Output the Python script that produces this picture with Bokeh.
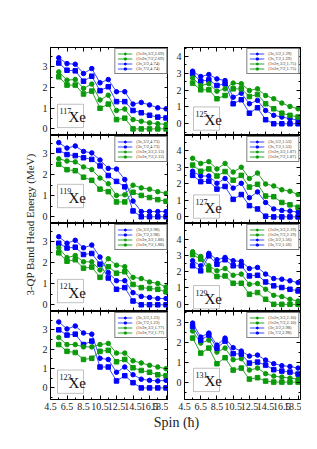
import math
from bokeh.plotting import figure
from bokeh.layouts import gridplot, row, column
from bokeh.models import (LinearAxis, FixedTicker, Range1d, Legend, LegendItem,
                          Label, BoxAnnotation)
from bokeh.core.properties import value
from bokeh.embed import file_html
from bokeh.resources import INLINE

# ---------------- data ----------------
spin = [5.5, 6.5, 7.5, 8.5, 9.5, 10.5, 11.5, 12.5, 13.5, 14.5, 15.5, 16.5, 17.5, 18.5]
x_major = [4.5, 6.5, 8.5, 10.5, 12.5, 14.5, 16.5, 18.5]
x_minor = [5.5, 7.5, 9.5, 11.5, 13.5, 15.5, 17.5]
y_minor = [-0.5, 0.5, 1.5, 2.5, 3.5, 4.5]

# 117Xe
g117_a = [2.76, 2.36, 2.39, 1.96, 2.17, 1.40, 1.63, 0.89, 0.96, 0.45, 0.37, 0.29, 0.25, 0.22]
g117_b = [2.52, 2.12, 2.12, 1.69, 1.83, 1.00, 1.20, 0.45, 0.52, 0.00, 0.00, 0.00, 0.00, 0.00]
b117_a = [3.44, 3.16, 3.13, 2.68, 2.92, 2.23, 2.39, 1.80, 1.80, 1.20, 1.28, 1.16, 1.02, 0.97]
b117_b = [3.19, 2.84, 2.81, 2.31, 2.55, 1.85, 2.04, 1.32, 1.32, 0.89, 0.78, 0.66, 0.57, 0.53]
lab117 = ["(1ν2π,3/2,2.69)", "(1ν2π,7/2,2.69)", "(3ν,3/2,4.74)", "(3ν,7/2,4.74)"]

# 119Xe
b119_a = [3.54, 3.28, 3.38, 3.12, 3.05, 2.71, 2.31, 2.28, 1.78, 0.75, 0.25, 0.25, 0.25, 0.25]
b119_b = [3.17, 2.97, 2.92, 2.82, 2.74, 2.43, 1.97, 1.69, 1.43, 0.28, 0.00, 0.00, 0.00, 0.00]
g119_a = [2.77, 2.66, 2.62, 2.38, 2.25, 1.85, 1.58, 1.02, 1.05, 1.51, 1.38, 1.32, 1.20, 1.12]
g119_b = [2.51, 2.25, 2.20, 1.89, 1.74, 1.32, 1.20, 0.71, 0.71, 1.17, 1.02, 0.92, 0.82, 0.74]
lab119 = ["(3ν,3/2,4.73)", "(3ν,7/2,4.73)", "(1ν2π,3/2,2.13)", "(1ν2π,7/2,2.13)"]

# 121Xe
b121_a = [3.25, 2.94, 3.08, 2.72, 2.85, 2.28, 1.54, 1.15, 1.15, 0.58, 0.40, 0.35, 0.30, 0.30]
b121_b = [2.94, 2.71, 2.75, 2.40, 2.45, 1.94, 1.28, 0.74, 0.82, 0.18, 0.00, 0.00, 0.00, 0.00]
g121_a = [2.72, 2.25, 2.35, 2.05, 2.05, 1.66, 2.20, 1.89, 1.82, 1.31, 1.25, 1.09, 1.02, 0.85]
g121_b = [2.48, 2.08, 2.15, 1.75, 1.80, 1.31, 1.82, 1.51, 1.58, 0.97, 0.82, 0.78, 0.74, 0.62]
lab121 = ["(3ν,3/2,2.98)", "(3ν,7/2,2.98)", "(1ν2π,3/2,1.88)", "(1ν2π,7/2,1.88)"]

# 123Xe
b123_a = [3.41, 3.05, 3.20, 2.84, 2.78, 1.53, 1.47, 0.81, 1.08, 0.68, 0.45, 0.39, 0.36, 0.39]
b123_b = [3.00, 2.73, 2.78, 2.24, 2.42, 1.08, 1.08, 0.36, 0.63, 0.27, 0.00, 0.00, 0.00, 0.00]
g123_a = [2.60, 2.24, 2.24, 2.12, 2.12, 2.24, 2.30, 1.80, 1.80, 1.40, 1.29, 1.17, 1.08, 0.99]
g123_b = [2.24, 1.89, 1.83, 1.47, 1.53, 1.89, 1.94, 1.35, 1.47, 1.04, 0.90, 0.81, 0.68, 0.63]
lab123 = ["(3ν,3/2,1.23)", "(3ν,7/2,1.23)", "(1ν2π,3/2,1.77)", "(1ν2π,7/2,1.77)"]

# 125Xe
b125_a = [3.13, 2.81, 2.93, 2.67, 2.57, 1.58, 1.82, 1.19, 1.39, 0.79, 0.50, 0.40, 0.30, 0.22]
b125_b = [2.97, 2.53, 2.61, 2.28, 2.38, 1.19, 1.43, 0.63, 0.95, 0.24, 0.00, 0.00, 0.00, 0.00]
g125_a = [2.73, 2.28, 2.38, 1.94, 2.08, 2.42, 2.38, 1.98, 2.08, 1.68, 1.49, 1.23, 1.03, 0.89]
g125_b = [2.42, 2.02, 2.02, 1.49, 1.68, 2.08, 2.08, 1.62, 1.74, 1.19, 0.89, 0.63, 0.50, 0.40]
lab125 = ["(3ν,3/2,1.29)", "(3ν,7/2,1.29)", "(1ν2π,3/2,1.75)", "(1ν2π,7/2,1.75)"]

# 127Xe
b127_a = [2.76, 2.47, 2.47, 2.03, 2.32, 1.74, 2.03, 1.16, 1.51, 0.87, 0.48, 0.39, 0.35, 0.29]
b127_b = [2.51, 2.13, 2.16, 1.68, 1.84, 1.06, 1.35, 0.68, 0.48, 0.04, 0.00, 0.00, 0.00, 0.00]
g127_a = [3.54, 3.23, 3.34, 2.90, 3.23, 2.71, 3.00, 2.32, 2.65, 1.99, 1.87, 1.64, 1.55, 1.35]
g127_b = [3.13, 2.76, 2.90, 2.47, 2.74, 2.22, 2.51, 1.80, 1.97, 1.26, 1.22, 0.87, 0.73, 0.58]
lab127 = ["(3ν,3/2,1.53)", "(3ν,7/2,1.53)", "(1ν2π,3/2,1.87)", "(1ν2π,7/2,1.87)"]

# 129Xe
g129_a = [3.22, 2.93, 2.36, 2.05, 2.19, 1.78, 1.85, 1.23, 1.27, 0.92, 0.55, 0.47, 0.31, 0.20]
g129_b = [3.04, 2.77, 2.11, 1.70, 1.74, 1.29, 1.29, 0.62, 0.72, 0.31, 0.00, 0.00, 0.00, 0.00]
b129_a = [2.67, 2.36, 3.12, 2.73, 2.87, 2.67, 2.63, 2.19, 2.26, 1.85, 1.58, 1.54, 1.44, 1.33]
b129_b = [2.36, 2.05, 2.97, 2.46, 2.73, 2.36, 2.36, 1.74, 1.78, 1.37, 1.13, 1.03, 0.92, 0.82]
lab129 = ["(1ν2π,3/2,2.19)", "(1ν2π,7/2,2.19)", "(3ν,3/2,1.56)", "(3ν,7/2,1.56)"]

# 131Xe
g131_a = [2.55, 1.95, 2.10, 1.50, 1.70, 1.12, 1.17, 0.60, 0.70, 0.42, 0.30, 0.25, 0.20, 0.15]
g131_b = [2.20, 1.45, 1.70, 0.92, 1.22, 0.60, 0.70, 0.15, 0.22, 0.05, 0.00, 0.00, 0.00, 0.00]
b131_a = [2.95, 2.25, 2.45, 1.85, 2.20, 1.72, 1.55, 1.30, 1.35, 1.10, 0.92, 0.82, 0.78, 0.70]
b131_b = [2.78, 2.10, 2.35, 1.70, 2.05, 1.42, 1.40, 0.95, 1.00, 0.85, 0.62, 0.55, 0.50, 0.40]
lab131 = ["(1ν2π,3/2,2.10)", "(1ν2π,7/2,2.10)", "(3ν,3/2,2.98)", "(3ν,7/2,2.98)"]

y_label = "3-QP Band Head Energy (MeV)"
x_label = "Spin (ħ)"

# ---------------- style ----------------
FONT = "Liberation Serif"
BLUE = "#0000ff"
BLUE_L = "#3a4cff"
GREEN = "#0b9a0b"
GREEN_L = "#2aa52a"

FH = 88
TOP = 47
BOT = 15
YLW = 38


def style_axis(ax, show):
    ax.axis_line_color = "black"
    ax.axis_line_width = 1
    ax.major_tick_in = 4
    ax.major_tick_out = 0
    ax.minor_tick_in = 2
    ax.minor_tick_out = 0
    ax.major_tick_line_color = "black"
    ax.minor_tick_line_color = "black"
    if show:
        ax.major_label_text_font = FONT
        ax.major_label_text_font_size = "10px"
        ax.major_label_text_color = "#222222"
        ax.major_label_standoff = 3
    else:
        ax.major_label_text_color = None
        ax.major_label_standoff = 0


def panel(mass, entries, yr, yticks, col, rowi, box_bottom):
    fw = 118 if col == 0 else 116
    bl = 12 if col == 0 else 16
    br = 0 if col == 0 else 1
    bt = TOP if rowi == 0 else 0
    bb = BOT if rowi == 3 else 0
    p = figure(width=bl + fw + br, height=bt + FH + bb,
               x_range=Range1d(4.5, 18.8), y_range=Range1d(*yr),
               output_backend="svg", toolbar_location=None, tools="",
               x_axis_location=None, y_axis_location=None,
               min_border_left=bl, min_border_right=br,
               min_border_top=bt, min_border_bottom=bb,
               outline_line_color="black", outline_line_width=1,
               background_fill_color="white", border_fill_color="white")
    p.grid.visible = False
    for side in ("below", "above"):
        ax = LinearAxis(ticker=FixedTicker(ticks=x_major, minor_ticks=x_minor))
        style_axis(ax, side == "below" and rowi == 3)
        p.add_layout(ax, side)
    for side in ("left", "right"):
        ax = LinearAxis(ticker=FixedTicker(ticks=yticks, minor_ticks=y_minor))
        style_axis(ax, side == "left")
        p.add_layout(ax, side)

    items = []
    for label, color, lcolor, marker, vals in entries:
        l = p.line(spin, vals, line_color=lcolor, line_width=1)
        s = p.scatter(spin, vals, marker=marker, size=4.5,
                      fill_color=color, line_color=color)
        items.append(LegendItem(label=value(label), renderers=[l, s]))
    leg = Legend(items=items, location="top_right",
                 label_text_font=FONT, label_text_font_size="4.5px",
                 label_text_color="#333333",
                 glyph_width=15, glyph_height=5, label_height=5,
                 label_standoff=4, spacing=0, padding=2, margin=1,
                 border_line_color="black", border_line_width=0.6,
                 background_fill_color="white", background_fill_alpha=1)
    p.add_layout(leg)

    # nucleus tag box
    pxu = fw / (18.8 - 4.5)
    xoff = 7 if col == 0 else 9
    x0 = 4.5 + xoff / pxu
    x1 = 4.5 + (xoff + 26) / pxu
    span = yr[1] - yr[0]
    y0 = yr[0] + box_bottom * span
    y1 = yr[0] + (box_bottom + 0.265) * span
    p.add_layout(BoxAnnotation(left=x0, right=x1, bottom=y0, top=y1,
                               fill_color="white", fill_alpha=1,
                               line_color="#333333", line_width=1))
    p.add_layout(Label(x=x0 + 2 / pxu, y=yr[0] + (box_bottom + 0.185) * span,
                       text=mass, text_font=FONT, text_font_size="8px",
                       text_baseline="middle", text_align="left",
                       text_color="#111111"))
    p.add_layout(Label(x=x0 + 11 / pxu, y=yr[0] + (box_bottom + 0.115) * span,
                       text="Xe", text_font=FONT, text_font_size="15px",
                       text_baseline="middle", text_align="left",
                       text_color="#111111"))
    return p


def ent(lbls, s1, s2, s3, s4, first_blue):
    c1, l1 = (BLUE, BLUE_L) if first_blue else (GREEN, GREEN_L)
    c2, l2 = (GREEN, GREEN_L) if first_blue else (BLUE, BLUE_L)
    return [(lbls[0], c1, l1, "circle", s1), (lbls[1], c1, l1, "square", s2),
            (lbls[2], c2, l2, "circle", s3), (lbls[3], c2, l2, "square", s4)]


yt4 = [0, 1, 2, 3]
yt5 = [0, 1, 2, 3, 4]

p117 = panel("117", ent(lab117, g117_a, g117_b, b117_a, b117_b, False), (-0.32, 3.94), yt4, 0, 0, 0.09)
p119 = panel("119", ent(lab119, b119_a, b119_b, g119_a, g119_b, True), (-0.32, 3.88), yt4, 0, 1, 0.18)
p121 = panel("121", ent(lab121, b121_a, b121_b, g121_a, g121_b, True), (-0.32, 3.88), yt4, 0, 2, 0.10)
p123 = panel("123", ent(lab123, b123_a, b123_b, g123_a, g123_b, True), (-0.6, 3.95), yt4, 0, 3, 0.07)
p125 = panel("125", ent(lab125, b125_a, b125_b, g125_a, g125_b, True), (-0.7, 4.54), yt5, 1, 0, 0.06)
p127 = panel("127", ent(lab127, b127_a, b127_b, g127_a, g127_b, True), (-0.4, 4.92), yt5, 1, 1, 0.06)
p129 = panel("129", ent(lab129, g129_a, g129_b, b129_a, b129_b, False), (-0.44, 4.95), yt5, 1, 2, 0.03)
p131 = panel("131", ent(lab131, g131_a, g131_b, b131_a, b131_b, False), (-0.87, 3.53), yt4, 1, 3, 0.09)

grid = gridplot([[p117, p125], [p119, p127], [p121, p129], [p123, p131]],
                toolbar_location=None)

GH = TOP + FH * 4 + BOT
ylab = figure(width=YLW, height=GH, x_range=Range1d(0, YLW),
              y_range=Range1d(0, GH), output_backend="svg",
              toolbar_location=None, tools="", x_axis_location=None,
              y_axis_location=None, min_border=0, outline_line_color=None)
ylab.grid.visible = False
ylab.add_layout(Label(x=29, y=GH - 224, text=y_label, angle=math.pi / 2,
                      text_font=FONT, text_font_size="11px",
                      text_align="center", text_baseline="middle",
                      text_color="#222222"))

XW = YLW + 130 + 133
xlab = figure(width=XW, height=24,
              x_range=Range1d(0, XW), y_range=Range1d(0, 24),
              output_backend="svg", toolbar_location=None, tools="",
              x_axis_location=None, y_axis_location=None, min_border=0,
              outline_line_color=None)
xlab.grid.visible = False
xlab.add_layout(Label(x=176, y=16, text=x_label, text_font=FONT,
                      text_font_size="14px", text_align="center",
                      text_baseline="middle", text_color="#222222"))

layout = column(row(ylab, grid), xlab)

with open("out.html", "w") as f:
    f.write(file_html(layout, INLINE))
